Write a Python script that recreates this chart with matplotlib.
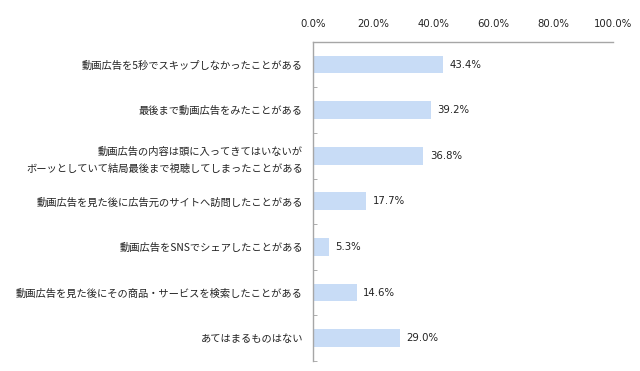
import matplotlib.pyplot as plt
from matplotlib.ticker import FuncFormatter, FixedLocator

plt.rcParams['font.family'] = ['Noto Sans CJK JP', 'DejaVu Sans']

labels = [
    '動画広告を5秒でスキップしなかったことがある',
    '最後まで動画広告をみたことがある',
    '動画広告の内容は頭に入ってきてはいないが\nボーッとしていて結局最後まで視聴してしまったことがある',
    '動画広告を見た後に広告元のサイトへ訪問したことがある',
    '動画広告をSNSでシェアしたことがある',
    '動画広告を見た後にその商品・サービスを検索したことがある',
    'あてはまるものはない',
]
values = [43.4, 39.2, 36.8, 17.7, 5.3, 14.6, 29.0]
xticks = [0, 20, 40, 60, 80, 100]

fig = plt.figure(figsize=(6.4, 3.71), dpi=100)
ax = fig.add_axes([0.489, 0.027, 0.469, 0.8606])

y = list(range(len(values)))
ax.barh(y, values, height=0.39, color='#c8dcf6')
ax.set_ylim(len(values) - 0.5, -0.5)
ax.set_xlim(0, 100)

ax.xaxis.tick_top()
ax.set_xticks(xticks)
ax.xaxis.set_major_formatter(FuncFormatter(lambda v, p: '%.1f%%' % v))
ax.tick_params(axis='x', length=0, pad=9.5, labelsize=7.3, colors='#222222')
for t in ax.get_xticklabels():
    t.set_family('DejaVu Sans')

ax.set_yticks(y)
ax.set_yticklabels(labels, fontsize=7.4, linespacing=1.9, color='#222222')
ax.tick_params(axis='y', which='major', length=0, pad=7.2)
ax.yaxis.set_minor_locator(FixedLocator([i + 0.5 for i in range(-1, len(values))]))
ax.tick_params(axis='y', which='minor', length=3, direction='in', color='#a0a0a0')

for s in ['bottom', 'right']:
    ax.spines[s].set_visible(False)
for s in ['top', 'left']:
    ax.spines[s].set_color('#a6a6a6')
    ax.spines[s].set_linewidth(1.0)

for i, v in enumerate(values):
    ax.text(v + 2.2, i, '%.1f%%' % v, va='center', ha='left', fontsize=7.3,
            color='#222222', family='DejaVu Sans')

fig.savefig('out.png', dpi=100)
